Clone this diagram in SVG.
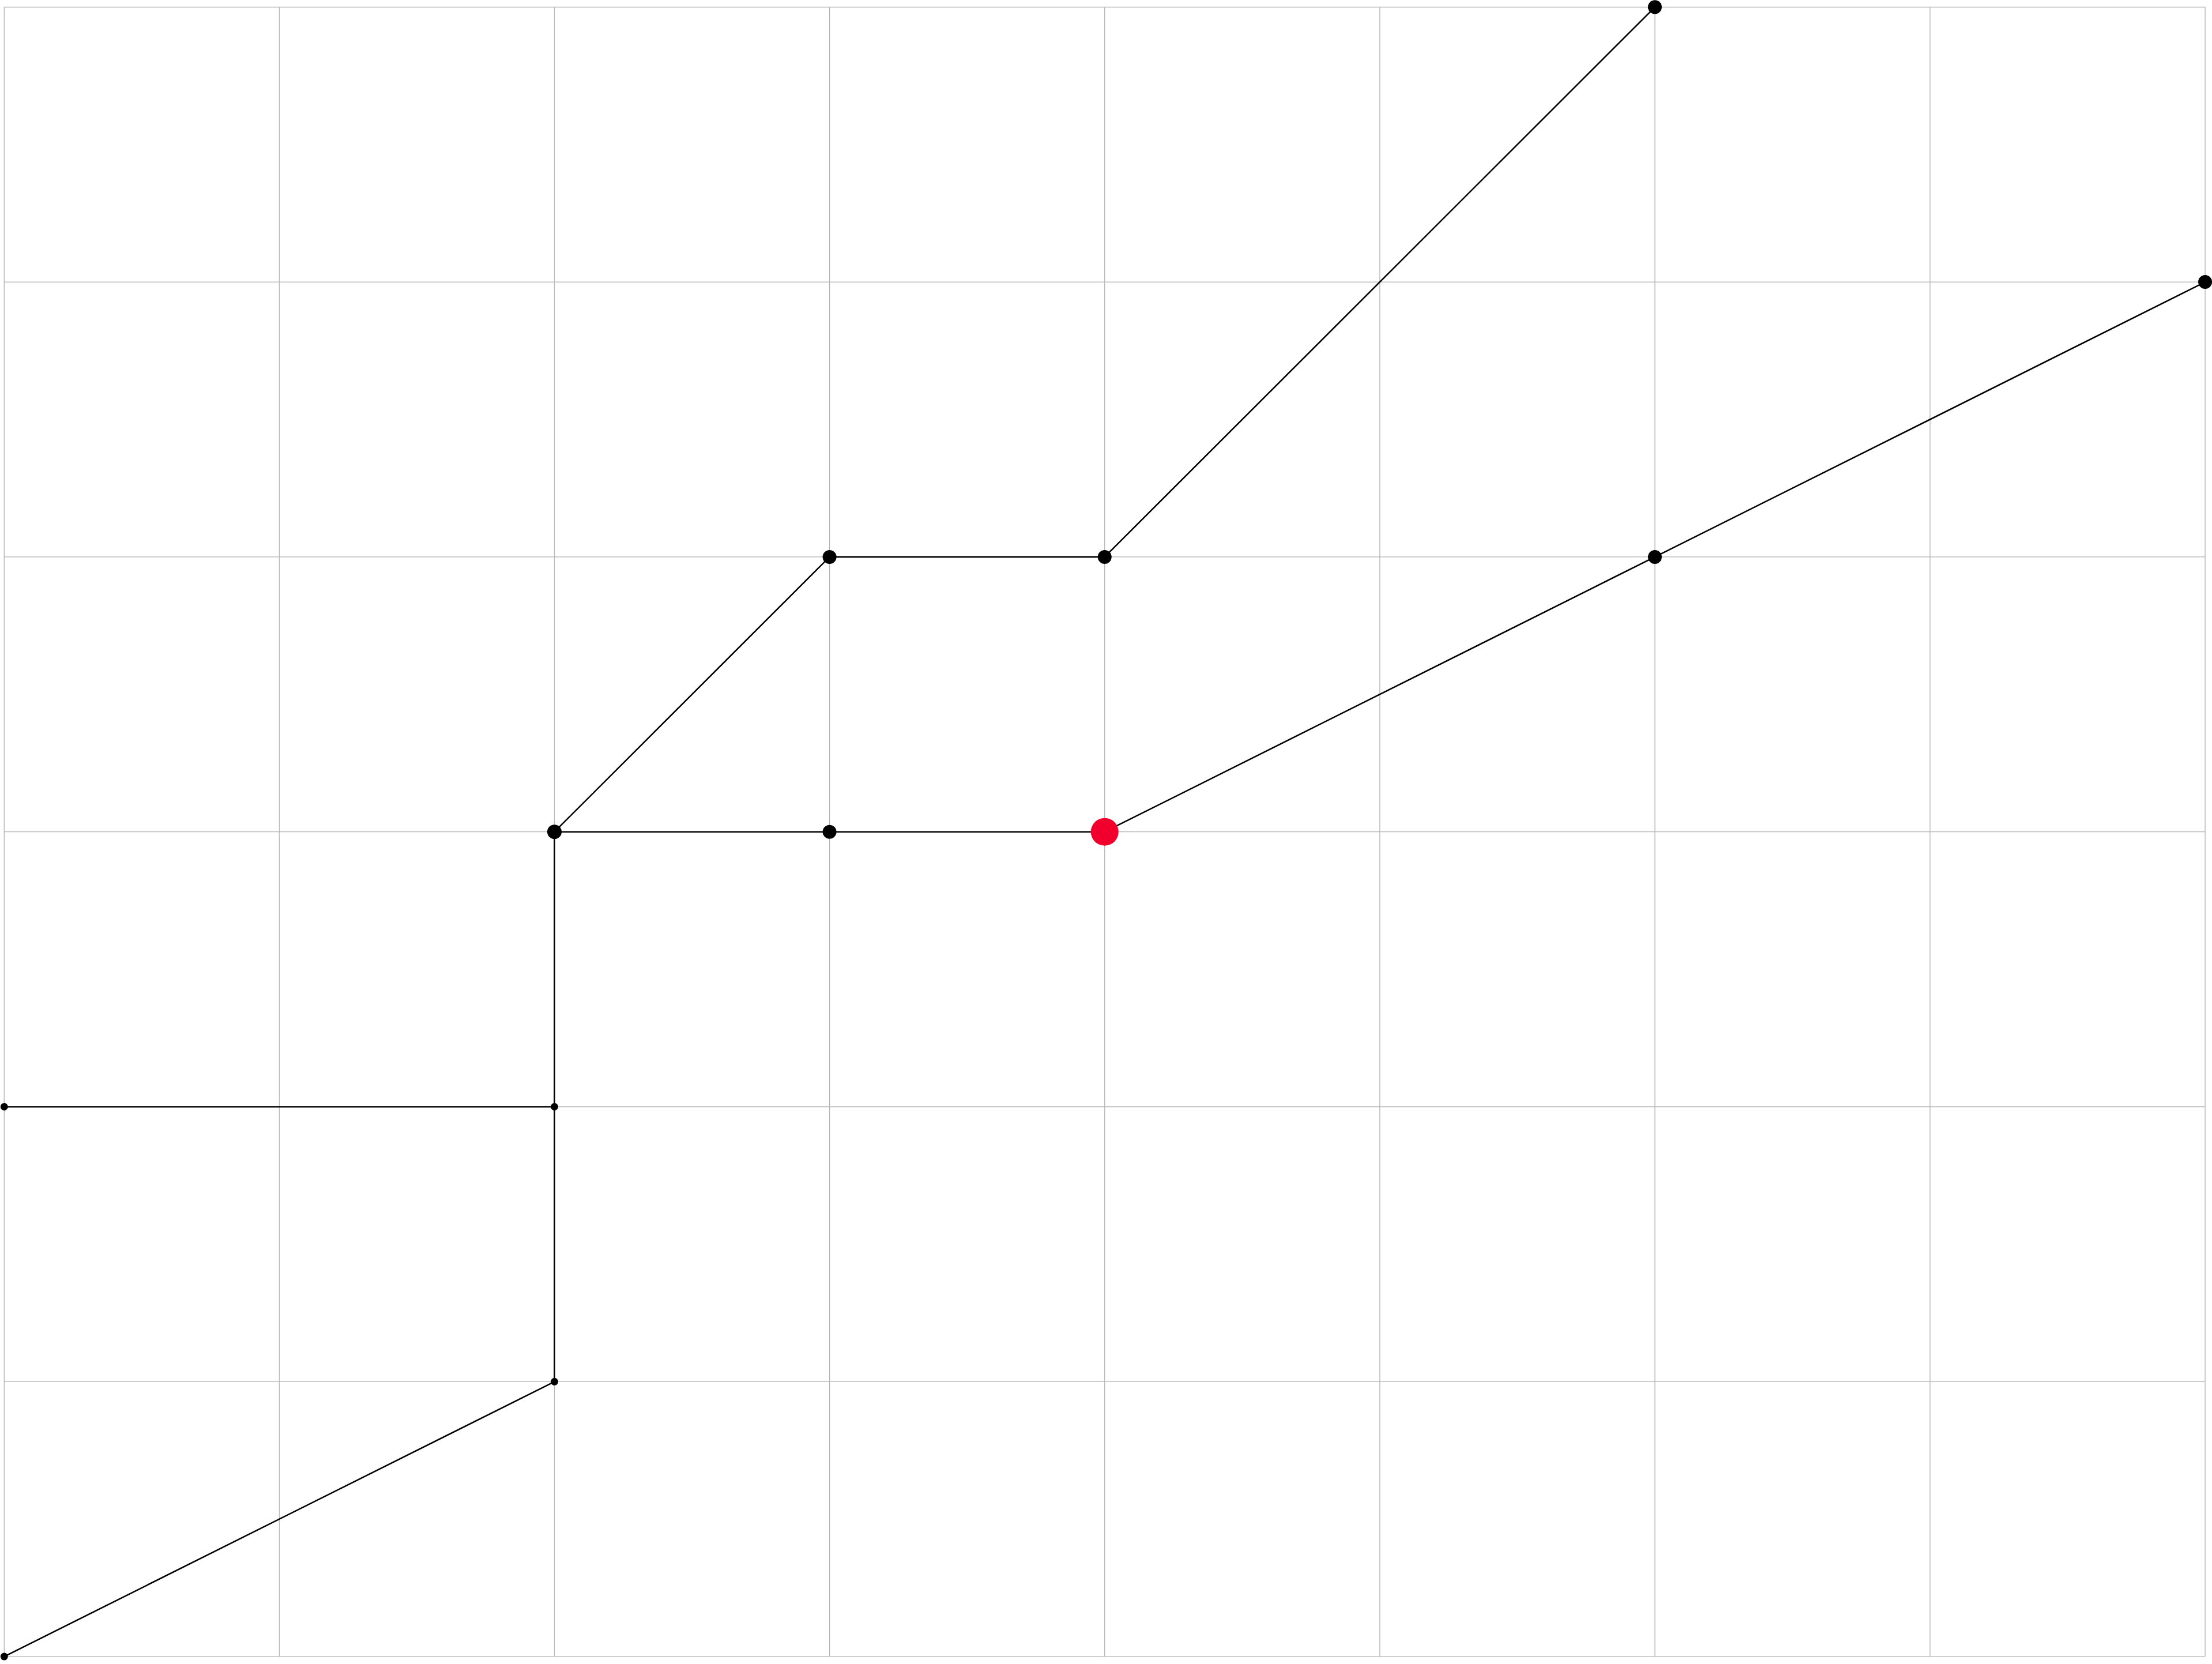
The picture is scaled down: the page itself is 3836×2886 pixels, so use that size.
<svg xmlns="http://www.w3.org/2000/svg" width="3836" height="2886" viewBox="0 0 3836 2886">
<style>
.grid line{stroke:#b4b4b4;stroke-width:1.3}
.edges line{stroke:#000;stroke-width:2.6}
.big{fill:#000}
.small{fill:#000}
.red{fill:#f2002d}
</style>
<rect width="3836" height="2886" fill="#fff"/>
<g class="grid" id="grid">
<line x1="7.3" y1="12.3" x2="7.3" y2="2873.1"/>
<line x1="484.4" y1="12.3" x2="484.4" y2="2873.1"/>
<line x1="961.5" y1="12.3" x2="961.5" y2="2873.1"/>
<line x1="1438.6" y1="12.3" x2="1438.6" y2="2873.1"/>
<line x1="1915.7" y1="12.3" x2="1915.7" y2="2873.1"/>
<line x1="2392.8" y1="12.3" x2="2392.8" y2="2873.1"/>
<line x1="2869.9" y1="12.3" x2="2869.9" y2="2873.1"/>
<line x1="3347" y1="12.3" x2="3347" y2="2873.1"/>
<line x1="3824.1" y1="12.3" x2="3824.1" y2="2873.1"/>
<line x1="7.3" y1="12.3" x2="3824.1" y2="12.3"/>
<line x1="7.3" y1="489.1" x2="3824.1" y2="489.1"/>
<line x1="7.3" y1="965.9" x2="3824.1" y2="965.9"/>
<line x1="7.3" y1="1442.7" x2="3824.1" y2="1442.7"/>
<line x1="7.3" y1="1919.5" x2="3824.1" y2="1919.5"/>
<line x1="7.3" y1="2396.3" x2="3824.1" y2="2396.3"/>
<line x1="7.3" y1="2873.1" x2="3824.1" y2="2873.1"/>
</g>
<g class="edges" id="connectors">
<line x1="7.3" y1="2873.1" x2="961.5" y2="2396.3"/>
<line x1="961.5" y1="2396.3" x2="961.5" y2="1919.5"/>
<line x1="961.5" y1="1919.5" x2="961.5" y2="1442.7"/>
<line x1="7.3" y1="1919.5" x2="961.5" y2="1919.5"/>
<line x1="961.5" y1="1442.7" x2="1438.6" y2="965.9"/>
<line x1="1438.6" y1="965.9" x2="1915.7" y2="965.9"/>
<line x1="1915.7" y1="965.9" x2="2869.9" y2="12.3"/>
<line x1="961.5" y1="1442.7" x2="1438.6" y2="1442.7"/>
<line x1="1438.6" y1="1442.7" x2="1915.7" y2="1442.7"/>
<line x1="1915.7" y1="1442.7" x2="2869.9" y2="965.9"/>
<line x1="2869.9" y1="965.9" x2="3824.1" y2="489.1"/>
</g>
<g id="n1"><circle class="big" cx="2869.9" cy="12.3" r="12"/></g>
<g id="n2"><circle class="big" cx="3824.1" cy="489.1" r="12"/></g>
<g id="n3"><circle class="big" cx="1438.6" cy="965.9" r="12"/></g>
<g id="n4"><circle class="big" cx="1915.7" cy="965.9" r="12"/></g>
<g id="n5"><circle class="big" cx="2869.9" cy="965.9" r="12"/></g>
<g id="n6"><circle class="big" cx="961.5" cy="1442.7" r="12.5"/></g>
<g id="n7"><circle class="big" cx="1438.6" cy="1442.7" r="12"/></g>
<g id="n8"><circle class="red" cx="1915.7" cy="1442.7" r="24"/></g>
<g id="n9"><circle class="small" cx="7.3" cy="1919.5" r="6.5"/></g>
<g id="n10"><circle class="small" cx="961.5" cy="1919.5" r="6.5"/></g>
<g id="n11"><circle class="small" cx="961.5" cy="2396.3" r="6.5"/></g>
<g id="n12"><circle class="small" cx="7.3" cy="2873.1" r="6.5"/></g>
</svg>
